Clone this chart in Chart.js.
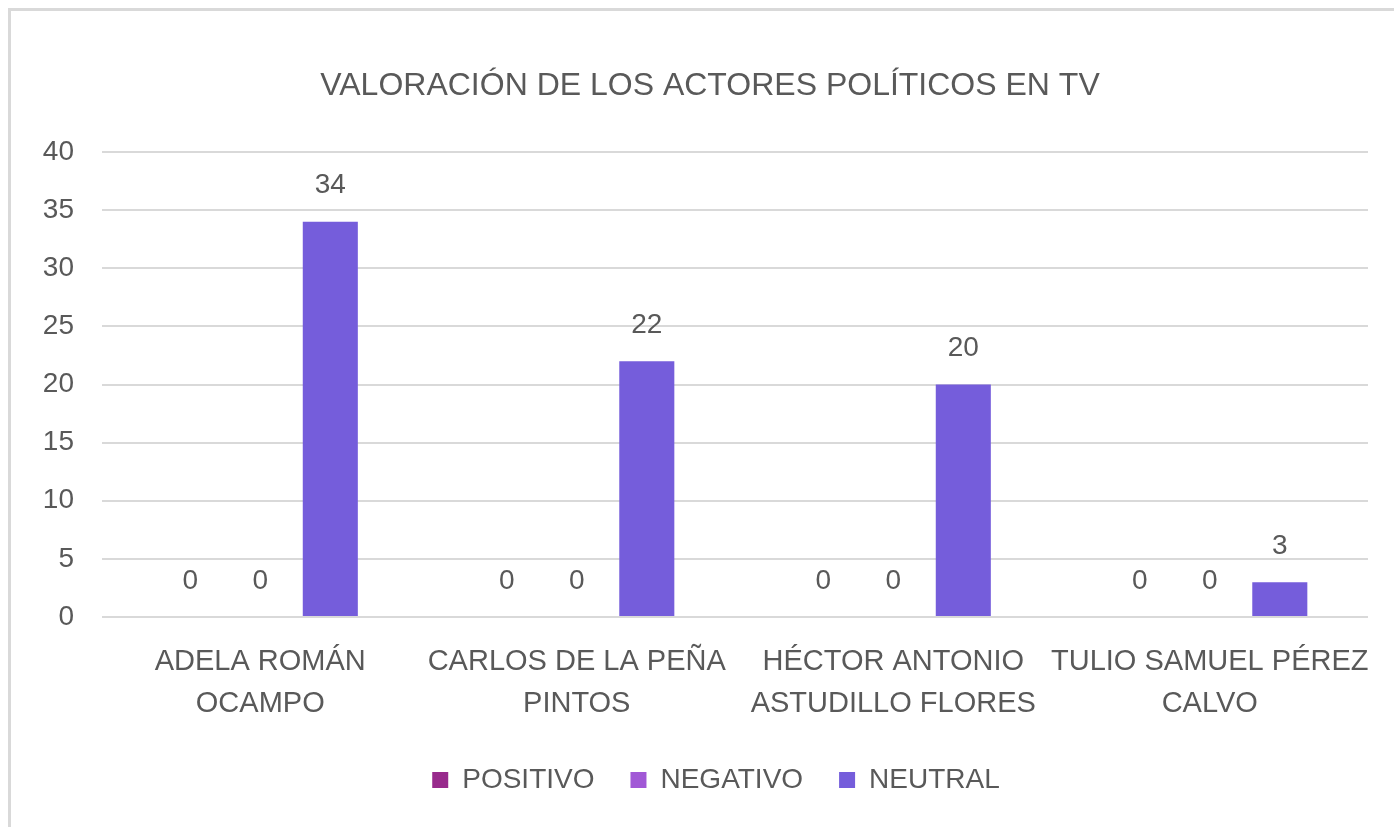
<!DOCTYPE html>
<html>
<head>
<meta charset="utf-8">
<script src="https://cdn.jsdelivr.net/npm/chart.js@4/dist/chart.umd.min.js"></script>
<style>
  html, body { margin: 0; padding: 0; background: #fff; }
  #wrap { position: absolute; left: 0; top: 0; width: 1394px; height: 827px; }
  #frame { position: absolute; left: 8px; top: 8px; width: 1400px; height: 830px;
           border-left: 3px solid #d9d9d9; border-top: 3px solid #d9d9d9; box-sizing: border-box; }
  canvas { position: absolute; left: 0; top: 0; }
</style>
</head>
<body>
<div id="wrap">
  <div id="frame"></div>
  <canvas id="c" width="1394" height="827"></canvas>
</div>
<script>
const titleText = 'VALORACIÓN DE LOS ACTORES POLÍTICOS EN TV';
const categories = [
  ['ADELA ROMÁN', 'OCAMPO'],
  ['CARLOS DE LA PEÑA', 'PINTOS'],
  ['HÉCTOR ANTONIO', 'ASTUDILLO FLORES'],
  ['TULIO SAMUEL PÉREZ', 'CALVO']
];
const seriesNames = ['POSITIVO', 'NEGATIVO', 'NEUTRAL'];
const positivo = [0, 0, 0, 0];
const negativo = [0, 0, 0, 0];
const neutral = [34, 22, 20, 3];
const seriesColors = ['#982A8C', '#A158D6', '#755DDB'];
const yTicks = [0, 5, 10, 15, 20, 25, 30, 35, 40];

const FONT = '"Liberation Sans Narrow", "Liberation Sans", Arial, sans-serif';
const NUMFONT = '"Liberation Sans", Arial, sans-serif';
const TXT = '#595959';

const dataLabels = {
  id: 'dataLabels',
  afterDatasetsDraw(chart) {
    const ctx = chart.ctx;
    ctx.save();
    ctx.font = '28px ' + NUMFONT;
    ctx.fillStyle = TXT;
    ctx.textAlign = 'center';
    ctx.textBaseline = 'middle';
    chart.data.datasets.forEach((ds, i) => {
      const meta = chart.getDatasetMeta(i);
      meta.data.forEach((bar, j) => {
        ctx.fillText(String(ds.data[j]), bar.x, bar.y - 36);
      });
    });
    ctx.restore();
  }
};

const chartTitle = {
  id: 'chartTitle',
  afterLayout(chart) {
    if (chart.legend) {
      chart.legend.left += 32;
      chart.legend.right += 32;
    }
  },
  afterDraw(chart) {
    const ctx = chart.ctx;
    ctx.save();
    ctx.font = '32px ' + FONT;
    ctx.fillStyle = TXT;
    ctx.textAlign = 'center';
    ctx.textBaseline = 'middle';
    ctx.fillText(titleText, 710, 86);
    ctx.restore();
  }
};

const datasets = [positivo, negativo, neutral].map((d, i) => ({
  label: seriesNames[i],
  data: d,
  backgroundColor: seriesColors[i],
  borderWidth: 0,
  categoryPercentage: 0.664,
  barPercentage: 0.786
}));

new Chart(document.getElementById('c'), {
  type: 'bar',
  data: { labels: categories, datasets },
  options: {
    responsive: false,
    animation: false,
    layout: { padding: { left: 0, right: 26, top: 152, bottom: 23 } },
    plugins: {
      title: { display: false },
      legend: {
        position: 'bottom',
        labels: {
          color: TXT,
          font: { family: FONT, size: 28 },
          boxWidth: 16,
          boxHeight: 16,
          padding: 36
        }
      },
      tooltip: { enabled: false }
    },
    scales: {
      x: {
        grid: { display: false },
        border: { display: false },
        ticks: {
          color: TXT,
          font: { family: FONT, size: 29, lineHeight: 1.45 },
          padding: 16,
          maxRotation: 0,
          autoSkip: false
        },
        afterFit(scale) { scale.height = 113; }
      },
      y: {
        min: 0,
        max: 40,
        afterBuildTicks(scale) { scale.ticks = yTicks.map(v => ({ value: v })); },
        grid: { color: '#d9d9d9', lineWidth: 2, drawTicks: false },
        border: { display: false },
        ticks: {
          color: TXT,
          font: { family: NUMFONT, size: 28 },
          padding: 28
        },
        afterFit(scale) { scale.width = 102; }
      }
    }
  },
  plugins: [dataLabels, chartTitle]
});
</script>
</body>
</html>
